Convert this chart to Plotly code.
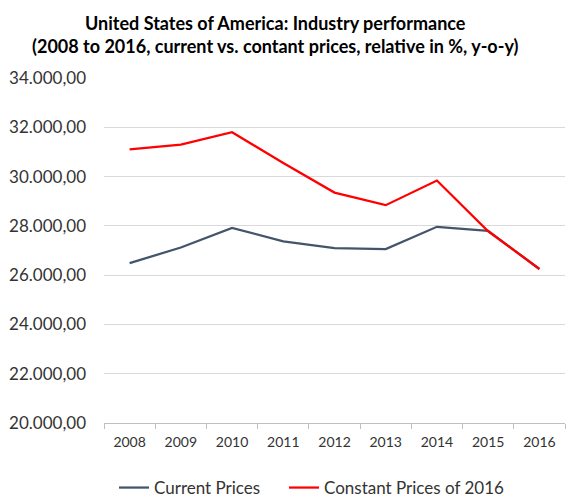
import plotly.graph_objects as go

years = ["2008", "2009", "2010", "2011", "2012", "2013", "2014", "2015", "2016"]
current_prices = [26490, 27120, 27920, 27370, 27100, 27060, 27960, 27800, 26250]
constant_prices = [31100, 31300, 31800, 30550, 29350, 28840, 29840, 27780, 26250]

FONT = "Lato"

fig = go.Figure()
fig.add_trace(go.Scatter(x=years, y=current_prices, mode="lines", name="Current Prices",
                         line=dict(color="#44546A", width=2.25), legend="legend"))
fig.add_trace(go.Scatter(x=years, y=constant_prices, mode="lines", name="Constant Prices of 2016",
                         line=dict(color="#FF0000", width=2.25), legend="legend2"))

fig.add_annotation(
    text="<b>United States of America: Industry performance<br>(2008 to 2016, current vs. contant prices, relative in %, y-o-y)</b>",
    xref="paper", yref="paper", x=(275 - 104) / 461, y=1 + (78 - 10) / 345,
    xanchor="center", yanchor="top", showarrow=False, align="center",
    font=dict(family=FONT, size=18, color="black"))

legend_common = dict(orientation="h", xanchor="left", y=(423 - 488) / 345, yanchor="middle",
                     font=dict(family=FONT, size=17, color="#333333"),
                     bgcolor="rgba(0,0,0,0)", itemwidth=30)

fig.update_layout(
    width=576, height=499,
    margin=dict(l=104, r=11, t=78, b=76, autoexpand=False),
    paper_bgcolor="white", plot_bgcolor="white",
    separators=",.",
    font=dict(family=FONT, size=14, color="#333333"),
    showlegend=True,
    legend=dict(x=(114 - 104) / 461, **legend_common),
    legend2=dict(x=(284 - 104) / 461, **legend_common),
    xaxis=dict(type="category", range=[-0.5, 8.5], showgrid=False, automargin=False,
               showline=True, linecolor="#BFBFBF", linewidth=1,
               ticks="outside", tickson="boundaries", ticklen=5, tickcolor="#BFBFBF",
               ticklabelstandoff=6,
               tickfont=dict(family=FONT, size=14, color="#333333")),
    yaxis=dict(range=[20000, 34000], dtick=2000, tickformat=",.2f", automargin=False,
               showgrid=True, gridcolor="#D9D9D9", gridwidth=1,
               zeroline=False, showline=False, ticks="", ticklen=0,
               ticklabelstandoff=17,
               tickfont=dict(family=FONT, size=17, color="#333333")),
)

fig.write_html("out.html", config={"displayModeBar": False},
               post_script="document.body.style.margin='0px';")
